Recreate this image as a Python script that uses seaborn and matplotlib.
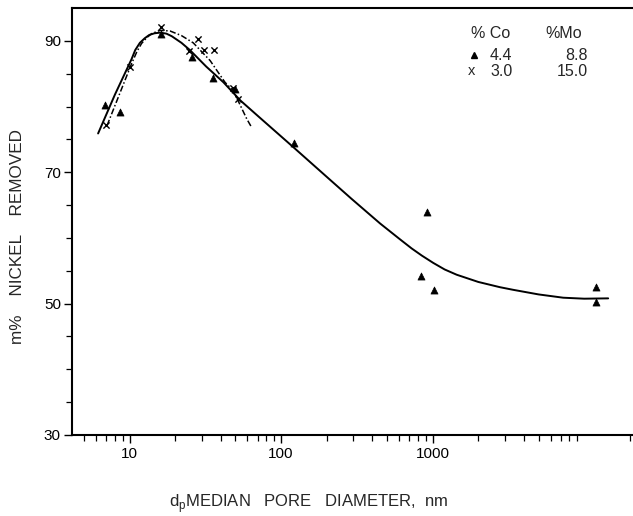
import matplotlib
matplotlib.use("Agg")
import matplotlib.pyplot as plt
import seaborn as sns
import pandas as pd
from matplotlib.ticker import FixedLocator, NullFormatter, LogLocator

# ---- data ----
tri_x = [6.9, 8.66, 16.2, 25.7, 35.7, 49.6, 122, 837, 913, 1025, 11900, 11900]
tri_y = [80.3, 79.2, 91.1, 87.5, 84.3, 82.7, 74.5, 54.2, 63.9, 52.1, 52.5, 50.2]

cross_x = [7.0, 10.0, 16.1, 24.8, 28.4, 31.2, 36.3, 48.0, 52.0]
cross_y = [77.2, 86.0, 92.1, 88.4, 90.3, 88.6, 88.6, 82.8, 81.1]

solid_x = [6.2, 8.0, 10.3, 10.9, 11.7, 12.6, 13.5, 14.6, 15.9, 17.5, 19.0, 22.0,
           25.0, 32.0, 41.6, 54.0, 72.0, 122, 200, 290, 450, 608, 727, 850,
           1009, 1200, 1440, 2000, 2780, 3400, 5000, 7270, 10000, 14400]
solid_y = [75.9, 81.8, 87.2, 88.6, 89.7, 90.4, 90.9, 91.15, 91.25, 91.1, 90.7, 89.7,
           88.6, 86.1, 83.7, 80.9, 78.35, 73.7, 69.3, 66.0, 62.2, 59.8, 58.4, 57.3,
           56.2, 55.2, 54.4, 53.3, 52.5, 52.1, 51.4, 50.9, 50.75, 50.8]

dash_x = [7.1, 10.3, 11.2, 12.0, 13.0, 14.0, 15.9, 18.5, 22.0, 26.3, 34.0, 42.6,
          48.4, 59.4, 64.0]
dash_y = [77.1, 86.5, 88.4, 89.6, 90.5, 91.1, 91.6, 91.5, 90.8, 89.7, 87.0, 83.7,
          82.4, 78.1, 76.8]

y_ticks = [30, 50, 70, 90]
x_ticks = [10, 100, 1000]
x_tick_labels = ["10", "100", "1000"]

legend_cols = ["% Co", "%Mo"]
legend_co = ["4.4", "3.0"]
legend_mo = ["8.8", "15.0"]

# ---- style ----
sns.set_style("ticks")
plt.rcParams["font.family"] = ["Liberation Sans", "DejaVu Sans"]

fig = plt.figure(figsize=(6.33, 5.16), dpi=100)
ax = fig.add_axes([72 / 633, 1 - 435 / 516, 561 / 633, 427 / 516])

df_tri = pd.DataFrame({"d": tri_x, "ni": tri_y})
df_cross = pd.DataFrame({"d": cross_x, "ni": cross_y})
df_solid = pd.DataFrame({"d": solid_x, "ni": solid_y})
df_dash = pd.DataFrame({"d": dash_x, "ni": dash_y})

sns.lineplot(data=df_solid, x="d", y="ni", ax=ax, color="black", lw=1.4,
             sort=False, estimator=None)
sns.lineplot(data=df_dash, x="d", y="ni", ax=ax, color="black", lw=1.1,
             sort=False, estimator=None, linestyle=(0, (4, 1.5, 1, 1.5)))
sns.scatterplot(data=df_tri, x="d", y="ni", ax=ax, marker="^", s=26,
                color="black", edgecolor="black", linewidth=0.5, zorder=5)
sns.scatterplot(data=df_cross, x="d", y="ni", ax=ax, marker="x", s=20,
                color="black", linewidth=1.0, zorder=5)

ax.set_xscale("log")
ax.set_xlim(4.17, 21000)
ax.set_ylim(30, 95)

ax.xaxis.set_major_locator(FixedLocator(x_ticks))
ax.set_xticklabels(x_tick_labels)
ax.xaxis.set_minor_locator(LogLocator(base=10, subs=range(2, 10)))
ax.xaxis.set_minor_formatter(NullFormatter())
ax.set_yticks(y_ticks)
ax.set_yticks(range(30, 95, 5), minor=True)

ax.tick_params(axis="both", which="major", direction="out", length=6, width=1.0,
               labelsize=11, color="black", labelcolor="black", pad=3)
ax.tick_params(axis="y", which="major", pad=2)
ax.tick_params(axis="both", which="minor", direction="out", length=4, width=0.9,
               color="black")
for side in ["left", "bottom", "top"]:
    ax.spines[side].set_linewidth(1.5)
    ax.spines[side].set_color("black")
ax.spines["right"].set_visible(False)

ax.set_xlabel(r"d$_\mathregular{p}$MEDIAN   PORE   DIAMETER,  nm", fontsize=12)
ax.set_ylabel("m%    NICKEL    REMOVED", fontsize=12.3)
ax.xaxis.set_label_coords(0.4225, -0.134)
ax.yaxis.set_label_coords(-0.083, 0.466)

# legend as a small table of text
def fx(px):
    return (px - 72) / 561

def fy(py):
    return (435 - py) / 427

ax.text(fx(471), fy(33), legend_cols[0], transform=ax.transAxes, fontsize=11.5,
        va="center", ha="left")
ax.text(fx(545), fy(33), legend_cols[1], transform=ax.transAxes, fontsize=11.5,
        va="center", ha="left")
ax.plot([fx(474)], [fy(55)], marker="^", color="black", ms=4.5,
        transform=ax.transAxes, clip_on=False)
ax.text(fx(472), fy(71), "x", transform=ax.transAxes, fontsize=10.5,
        va="center", ha="center")
for row, py in enumerate([55, 71]):
    ax.text(fx(490), fy(py), legend_co[row], transform=ax.transAxes,
            fontsize=11.5, va="center", ha="left")
    ax.text(fx(588), fy(py), legend_mo[row], transform=ax.transAxes,
            fontsize=11.5, va="center", ha="right")

fig.savefig("out.png", dpi=100, facecolor="white")
